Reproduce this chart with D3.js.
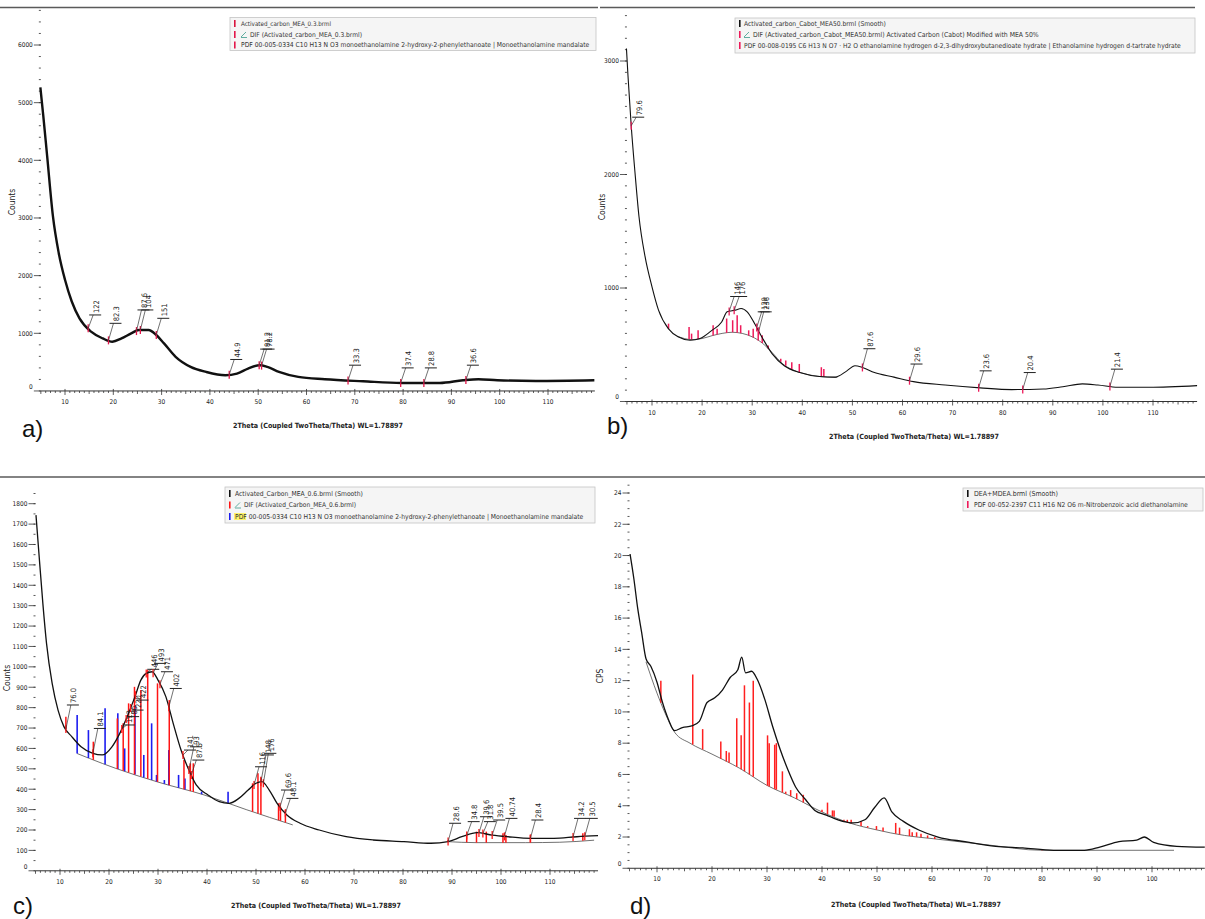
<!DOCTYPE html>
<html lang="en">
<head>
<meta charset="UTF-8">
<title>XRD patterns a-d</title>
<script src="https://cdn.jsdelivr.net/npm/d3@7"></script>
<style>
  body { margin: 0; background: #fff; }
  svg { display: block; }
</style>
</head>
<body>
<svg id="fig" width="1205" height="919"></svg>
<script>
// ---------- data (2Theta in degrees, intensity in counts / CPS) ----------
const aTheta  = [4.9,5.5,6.3,7.5,8.7,10,11.4,13,15.4,17.8,19.8,21.7,23.7,25.3,27.3,28.9,30.5,32.9,36,39.2,43.2,45.6,47.9,50.3,51.9,54.3,58.3,63.8,71.7,79.7,87.6,92.4,95.6,99.5,107.5,119.6];
const aCounts = [5267,4774,4077,3031,2393,1928,1551,1260,1028,912,854,912,999,1057,1057,970,825,592,418,331,273,302,389,447,418,331,244,203,168,139,139,186,203,186,174,186];
const aLabTheta = [14.8,19.0,24.8,25.6,28.9,44.0,50.2,50.7,68.6,79.5,84.3,93.0];
const aLabText  = ["122","82.3","87.6","104","151","44.9","81.2","78.2","33.3","37.4","28.8","36.6"];
const aLabLevel = [1318,1173,1405,1405,1260,546,726,726,447,400,400,447];

const bTheta  = [4.9,5.2,5.85,6.6,7.4,8.6,10,11.3,13.3,15.2,17.6,19.6,21.9,23.9,25,26.6,27.8,29,30.5,32.1,34,36.4,39.5,43.4,46.6,48.9,50.5,52,54.4,58.3,62.2,68.5,75.5,81.8,88.1,92,95.9,99,103,109.2,118.8];
const bCounts = [3110,2875,2430,2020,1630,1280,1010,805,640,570,540,555,625,700,790,805,820,790,685,555,420,315,255,220,215,270,315,300,255,215,175,145,120,105,110,130,155,145,125,125,140];
const bBgTheta  = [15,18,20,22,24,26,28,30,32,34,36,38,40,44,47];
const bBgCounts = [575,545,555,580,600,610,600,570,515,430,335,280,250,218,212];
const bStickTheta = [13.3,17.4,17.9,19.2,22.2,23.0,24.9,26.1,27.0,27.7,29.3,30.2,31.2,32.0,33.2,35.7,36.7,37.9,39.4,43.8,44.3];
const bStickTop   = [686,657,598,627,672,642,731,716,760,672,627,642,642,583,494,376,361,346,331,302,287];
const bLabTheta = [5.85,25.4,26.4,30.9,31.3,52.0,61.4,75.2,84.0,101.4];
const bLabText  = ["79.6","146","176","129","236","87.6","29.6","23.6","20.4","21.4"];
const bLabLevel = [2505,925,925,790,790,465,330,270,255,285];

const cTheta  = [5.1,5.7,6.5,7.25,8.4,9.6,10.8,12.4,14.3,16.7,18.6,20.6,22.2,23.7,25.3,26.5,27.6,28.8,30,31.6,33.1,34.7,36.3,37.8,40.2,42.5,44.5,46.5,48.4,50,51.2,52.7,54.3,56.3,59,62.9,68.4,73.9,80.2,85.7,89.2,92,95.1,98.2,101.4,106.1,110.8,115.5,119.8];
const cCounts = [1744,1556,1311,1115,919,788,707,658,608,576,568,608,674,755,854,935,968,976,935,854,723,592,494,421,372,339,331,355,396,429,437,396,331,274,233,200,167,151,143,135,143,167,187,175,167,159,159,167,172];
const cBgTheta   = [13.5,16,21.4,30,39.4,48,57.5];
const cBgCounts  = [575,551,502,435,372,300,225];
const cBg2Theta  = [89,95,105,112,119];
const cBg2Counts = [143,138,138,140,150];
const cRedTheta  = [11.2,16.8,21.7,22.9,24.0,25.2,26.5,27.9,29.9,32.3,35.3,36.6,37.2,49.3,50.4,51.0,54.6,55.0,56.0,89.2,93,95,97,100.4,101,106,116.7];
const cRedTop    = [755,633,747,723,821,902,886,984,919,837,543,527,527,429,478,461,331,314,298,151,175,192,192,184,175,175,184];
const cBlueTheta = [13.5,15.8,19.2,21.8,23.2,25.3,27.1,28.7,29.7,31.3,32.2,34.2,35.5,38.9,44.3];
const cBlueTop   = [764,690,797,772,600,813,568,723,470,445,592,470,453,388,388];
const cLabTheta = [11.2,16.7,22.6,23.5,24.4,25.4,27.6,29.0,30.4,32.2,35.1,36.3,36.8,49.6,51.0,51.5,54.9,56.0,89.2,93.0,95.5,96.3,98.2,100.7,106.0,114.7,117.1];
const cLabText  = ["76.0","84.1","113","80","220","422","446","493","471","402","141","93","87.5","116","148","176","69.6","48.1","28.6","34.8","39.6","31.8","39.5","40.74","28.4","34.2","30.5"];
const cLabLevel = [813,698,715,756,788,837,988,1017,976,894,592,608,543,510,568,576,396,355,233,241,265,241,249,257,249,257,257];

const dTheta = [5.1,5.8,6.5,7.2,8.0,8.9,10,11,12.1,13.2,14.6,16.3,17.7,19.1,20.5,21.9,23.3,24.7,25.4,26.1,27.2,28.2,29.6,31,32.4,33.8,35.2,37,38.7,40.8,42.9,45.7,47.8,49.6,51.3,52.7,54.8,57.6,61.1,66,71.6,76.5,82.1,87.7,90.5,94,97.2,98.6,100.3,104.5,109.6];
const dCps   = [20.1,18.5,16.6,15.1,13.4,12.9,11.9,10.6,9.5,8.8,9.0,9.1,9.4,10.6,10.9,11.4,12.2,12.7,13.5,12.5,12.6,12.1,10.8,9.1,7.6,6.3,5.2,4.4,3.7,3.4,3.1,2.9,3.1,3.9,4.5,3.6,3.0,2.45,2.0,1.7,1.4,1.3,1.15,1.15,1.35,1.7,1.8,2.0,1.65,1.4,1.35];
const dBgTheta = [8,10,11.5,13.2,16,20,25,30,35,40,45,50,55,60,70,80,90,104];
const dBgCps   = [13.2,11.2,9.9,8.7,8.0,7.3,6.4,5.3,4.5,3.6,2.9,2.45,2.1,1.9,1.5,1.15,1.15,1.15];
const dRedTheta = [10.7,16.5,18.3,21.6,22.6,23.1,24.5,25.3,25.9,26.8,27.5,30.1,30.4,31.4,31.7,32.8,33.4,34.3,35.4,36.6,38.2,40.0,41.0,41.9,42.2,44.0,44.6,45.3,47.1,48.3,49.9,51.1,53.4,54.1,55.9,56.4,57.2,58.0,59.2,60.5,68.8,74.8,80.0];
const dRedTop   = [12.0,12.4,8.9,8.1,7.5,7.4,9.6,8.5,11.7,10.6,12.0,8.5,8.0,7.9,8.0,6.2,4.9,5.0,4.8,4.7,3.85,3.75,4.2,3.7,3.7,3.1,3.1,3.1,3.0,2.7,2.7,2.6,2.9,2.6,2.5,2.3,2.3,2.2,2.1,2.0,1.55,1.3,1.2];

const xTitle = "2Theta (Coupled TwoTheta/Theta) WL=1.78897";

const FONT = '"Liberation Sans Narrow","Arial Narrow","DejaVu Sans Condensed",sans-serif';
const svg = d3.select('#fig');

// linear lookup in a table, used to sit sticks / leaders on the curves
function lookup(xs, ys) {
  return t => {
    if (t <= xs[0]) return ys[0];
    if (t >= xs[xs.length - 1]) return ys[ys.length - 1];
    const i = d3.bisectRight(xs, t);
    const f = (t - xs[i - 1]) / (xs[i] - xs[i - 1]);
    return ys[i - 1] + f * (ys[i] - ys[i - 1]);
  };
}

// shrink/grow the font so the text spans the wanted width
function fitWidth(sel, fs, len) {
  const w = sel.node().getComputedTextLength();
  if (w > 0) sel.attr('font-size', (fs * len / w).toFixed(2));
  return sel;
}

function drawPanel(p) {
  const x = d3.scaleLinear().domain(p.xDom).range(p.xRng);
  const y = d3.scaleLinear().domain(p.yDom).range(p.yRng);
  const g = svg.append('g');
  const xa = x(5), xb = x(p.xEnd), y0 = y(0);

  // separator line on top of the panel
  g.append('line').attr('x1', p.sep[0]).attr('x2', p.sep[1]).attr('y1', p.sep[2]).attr('y2', p.sep[2])
    .attr('stroke', '#5a5a5a').attr('stroke-width', 1.6);

  // x axis
  g.append('line').attr('x1', xa).attr('x2', xb).attr('y1', y0).attr('y2', y0)
    .attr('stroke', '#333').attr('stroke-width', 1);
  g.selectAll(null).data(d3.range(5, Math.floor(p.xEnd) + 1)).join('line')
    .attr('x1', d => x(d)).attr('x2', d => x(d))
    .attr('y1', d => d % 10 === 0 ? y0 - 2 : y0)
    .attr('y2', d => y0 + (d % 10 === 0 ? 4 : d % 5 === 0 ? 3 : 2))
    .attr('stroke', '#333').attr('stroke-width', 0.8);
  g.selectAll(null).data(p.xLabels).join('text')
    .attr('x', d => x(d)).attr('y', y0 + 13).attr('text-anchor', 'middle')
    .attr('font-family', FONT).attr('font-size', 6.5).attr('fill', '#222').text(d => d);

  // y axis: dashes only
  g.selectAll(null).data(d3.range(0, p.yTop + 1e-6, p.yMinor)).join('line')
    .attr('x1', xa - 2).attr('x2', xa).attr('y1', d => y(d)).attr('y2', d => y(d))
    .attr('stroke', '#444').attr('stroke-width', 0.9);
  g.selectAll(null).data(p.yMajor).join('line')
    .attr('x1', xa - 7).attr('x2', xa).attr('y1', d => y(d)).attr('y2', d => y(d))
    .attr('stroke', '#333').attr('stroke-width', 0.8);
  g.selectAll(null).data(p.yMajor).join('text')
    .attr('x', xa - 8).attr('y', d => y(d) + 2.3 - (d === 0 ? 4.5 : 0)).attr('text-anchor', 'end')
    .attr('font-family', FONT).attr('font-size', 6.5).attr('fill', '#222').text(d => d);

  // axis titles and panel letter
  g.append('text').attr('transform', `translate(${p.yLab[0]},${p.yLab[1]}) rotate(-90)`)
    .attr('text-anchor', 'middle').attr('font-family', FONT).attr('font-size', 8.5)
    .attr('fill', '#222').text(p.yTitle);
  const title = g.append('text').attr('x', p.xLab[0]).attr('y', p.xLab[1]).attr('text-anchor', 'middle')
    .attr('font-family', FONT).attr('font-size', 9).attr('font-weight', 'bold').attr('fill', '#222')
    .text(xTitle);
  fitWidth(title, 9, 170);
  g.append('text').attr('x', p.letter[0]).attr('y', p.letter[1])
    .attr('font-family', '"Liberation Sans", Arial, sans-serif').attr('font-size', 24)
    .attr('fill', '#111').text(p.name + ')');

  const curveAt = lookup(p.theta, p.vals);
  const line = d3.line().x(d => x(d[0])).y(d => y(d[1])).curve(d3.curveMonotoneX);

  // background lines
  (p.bgs || []).forEach(bg => {
    g.append('path').attr('d', line(d3.zip(bg[0], bg[1]))).attr('fill', 'none')
      .attr('stroke', '#333').attr('stroke-width', 0.7);
  });
  const baseAt = t => {
    for (const bg of (p.bgs || [])) {
      if (t >= bg[0][0] && t <= bg[0][bg[0].length - 1]) return lookup(bg[0], bg[1])(t);
    }
    return curveAt(t);
  };

  // stick patterns
  (p.sticks || []).forEach(s => {
    g.selectAll(null).data(d3.zip(s.theta, s.top)).join('line')
      .attr('x1', d => x(d[0])).attr('x2', d => x(d[0]))
      .attr('y1', d => y(baseAt(d[0]))).attr('y2', d => y(Math.max(d[1], baseAt(d[0]))))
      .attr('stroke', s.color).attr('stroke-width', s.w || 1.4);
  });

  // measured pattern
  g.append('path').attr('d', line(d3.zip(p.theta, p.vals))).attr('fill', 'none')
    .attr('stroke', '#111').attr('stroke-width', p.lw).attr('stroke-linejoin', 'round');

  // peak labels with leaders
  if (p.labels) {
    const L = d3.zip(p.labels.theta, p.labels.text, p.labels.level);
    const lg = g.append('g');
    L.forEach(([t, txt, lev]) => {
      const px = x(t), py = y(curveAt(t));
      const bx = px + 5, by = y(lev);
      lg.append('line').attr('x1', px).attr('x2', px).attr('y1', py - 4).attr('y2', py + 4)
        .attr('stroke', p.markColor).attr('stroke-width', 1.3);
      lg.append('line').attr('x1', px).attr('y1', py).attr('x2', bx).attr('y2', by)
        .attr('stroke', '#333').attr('stroke-width', 0.7);
      lg.append('line').attr('x1', bx - 4).attr('x2', bx + 8).attr('y1', by).attr('y2', by)
        .attr('stroke', '#222').attr('stroke-width', 1);
      lg.append('text').attr('transform', `translate(${bx + 5.5},${by - 2}) rotate(-90)`)
        .attr('font-family', FONT).attr('font-size', 7.5).attr('fill', '#222').text(txt);
    });
  }

  // legend
  const lb = p.legend;
  g.append('rect').attr('x', lb.x).attr('y', lb.y).attr('width', lb.w).attr('height', lb.h)
    .attr('fill', '#f5f5f5').attr('stroke', '#c4c4c4').attr('stroke-width', 0.8);
  lb.rows.forEach((r, i) => {
    const cy = lb.rowY[i];
    g.append('rect').attr('x', lb.x + 4).attr('y', cy - 3.5).attr('width', 1.6).attr('height', 7).attr('fill', r.color);
    let tx = lb.x + lb.textDx;
    if (r.icon) {
      g.append('path').attr('d', `M${tx},${cy + 2.5}L${tx + 5},${cy - 2.5}M${tx},${cy + 3}H${tx + 6}`)
        .attr('stroke', '#3a9a8a').attr('stroke-width', 0.8).attr('fill', 'none');
      tx += 9;
    }
    if (r.hl) {
      g.append('rect').attr('x', tx - 1).attr('y', cy - 3.5).attr('width', 12).attr('height', 7).attr('fill', '#fff36a');
    }
    const t = g.append('text').attr('x', tx).attr('y', cy + 2.3)
      .attr('font-family', FONT).attr('font-size', 7.3).attr('fill', '#333').text(r.text);
    fitWidth(t, 7.3, r.len);
  });
}

const pdfMEA = "PDF 00-005-0334 C10 H13 N O3 monoethanolamine 2-hydroxy-2-phenylethanoate | Monoethanolamine mandalate";

drawPanel({
  name: 'a', xDom: [10, 110], xRng: [65, 548], xEnd: 119.7,
  yDom: [1000, 6000], yRng: [333.3, 45], yTop: 6600, yMinor: 200,
  yMajor: d3.range(0, 6001, 1000), xLabels: d3.range(10, 111, 10),
  theta: aTheta, vals: aCounts, lw: 2.4, markColor: '#e3164a',
  sep: [0, 598, 7.5], yTitle: 'Counts', yLab: [15, 202], xLab: [318, 428], letter: [22, 437],
  labels: { theta: aLabTheta, text: aLabText, level: aLabLevel },
  legend: { x: 230, y: 17.5, w: 366, h: 33, textDx: 11, rowY: [23.5, 34.5, 45],
    rows: [
      { color: '#d9143e', text: 'Activated_carbon_MEA_0.3.brml', len: 90 },
      { color: '#e3164a', text: 'DIF (Activated_carbon_MEA_0.3.brml)', len: 112, icon: true },
      { color: '#e3164a', text: pdfMEA, len: 348 }
    ] }
});

drawPanel({
  name: 'b', xDom: [10, 110], xRng: [652, 1153], xEnd: 118.8,
  yDom: [1000, 3000], yRng: [288, 61], yTop: 3400, yMinor: 100,
  yMajor: [0, 1000, 2000, 3000], xLabels: d3.range(10, 111, 10),
  theta: bTheta, vals: bCounts, lw: 1.1, markColor: '#ee1a5a',
  sep: [600, 1195, 7.5], yTitle: 'Counts', yLab: [605, 207], xLab: [914, 439], letter: [607, 434],
  bgs: [[bBgTheta, bBgCounts]],
  sticks: [{ theta: bStickTheta, top: bStickTop, color: '#ee1a5a', w: 1.5 }],
  labels: { theta: bLabTheta, text: bLabText, level: bLabLevel },
  legend: { x: 735, y: 18, w: 460, h: 35, textDx: 9, rowY: [23.5, 34.5, 45.5],
    rows: [
      { color: '#111', text: 'Activated_carbon_Cabot_MEA50.brml (Smooth)', len: 142 },
      { color: '#ee1a5a', text: 'DIF (Activated_carbon_Cabot_MEA50.brml)  Activated Carbon (Cabot) Modified with MEA 50%', len: 286, icon: true },
      { color: '#ee1a5a', text: 'PDF 00-008-0195 C6 H13 N O7 \u00b7 H2 O ethanolamine hydrogen d-2,3-dihydroxybutanedioate hydrate | Ethanolamine hydrogen d-tartrate hydrate', len: 437 }
    ] }
});

drawPanel({
  name: 'c', xDom: [10, 110], xRng: [60, 550], xEnd: 119.8,
  yDom: [200, 1800], yRng: [830, 503.7], yTop: 1850, yMinor: 50,
  yMajor: d3.range(0, 1801, 100), xLabels: d3.range(10, 111, 10),
  theta: cTheta, vals: cCounts, lw: 1.3, markColor: '#ff1a1a',
  sep: [0, 600, 477], yTitle: 'Counts', yLab: [10, 678], xLab: [316, 908], letter: [13, 914],
  bgs: [[cBgTheta, cBgCounts], [cBg2Theta, cBg2Counts]],
  sticks: [
    { theta: cBlueTheta, top: cBlueTop, color: '#1d1df0', w: 1.6 },
    { theta: cRedTheta, top: cRedTop, color: '#ff1414', w: 1.5 }
  ],
  labels: { theta: cLabTheta, text: cLabText, level: cLabLevel },
  legend: { x: 225, y: 487, w: 370, h: 36, textDx: 10, rowY: [493.5, 505, 516.5],
    rows: [
      { color: '#111', text: 'Activated_Carbon_MEA_0.6.brml (Smooth)', len: 128 },
      { color: '#ff1414', text: 'DIF (Activated_Carbon_MEA_0.6.brml)', len: 112, icon: true },
      { color: '#1d1df0', text: pdfMEA, len: 348, hl: true }
    ] }
});

drawPanel({
  name: 'd', xDom: [10, 30], xRng: [657, 767], xEnd: 109.6,
  yDom: [2, 24], yRng: [837, 493], yTop: 24.5, yMinor: 0.5,
  yMajor: d3.range(0, 25, 2), xLabels: d3.range(10, 101, 10),
  theta: dTheta, vals: dCps, lw: 1.3, markColor: '#ff2020',
  sep: [600, 1205, 477], yTitle: 'CPS', yLab: [603, 676], xLab: [916, 907], letter: [630, 914],
  bgs: [[dBgTheta, dBgCps]],
  sticks: [{ theta: dRedTheta, top: dRedTop, color: '#ff2020', w: 1.5 }],
  legend: { x: 963, y: 488, w: 240, h: 23, textDx: 11, rowY: [493.5, 504.5],
    rows: [
      { color: '#111', text: 'DEA+MDEA.brml (Smooth)', len: 84 },
      { color: '#ee1a5a', text: 'PDF 00-052-2397 C11 H16 N2 O6 m-Nitrobenzoic acid diethanolamine', len: 214 }
    ] }
});
</script>
</body>
</html>
